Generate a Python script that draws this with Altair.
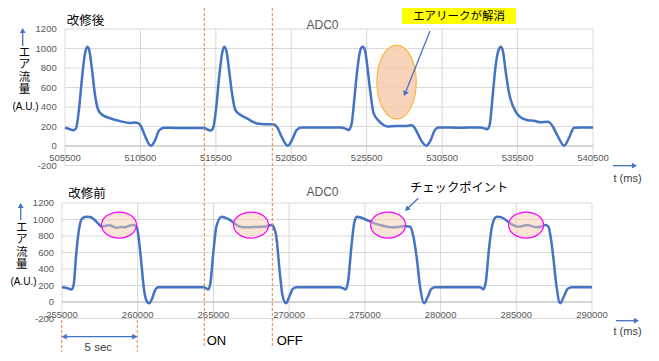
import math
import altair as alt
import pandas as pd

# ---------------- data ----------------
top_t = [505500, 505766, 506031, 506230, 506430, 506629, 506828, 506981, 507094, 507293,
         507492, 507691, 507957, 508488, 509152, 509816, 510148, 510347, 510546, 510812,
         511190, 511476, 511742, 512074, 512804, 513800, 514730, 514929, 515175, 515328,
         515527, 515726, 515925, 516058, 516191, 516390, 516589, 516788, 517120, 517565,
         517917, 518249, 518780, 519312, 519578, 519844, 520262, 520574, 520840, 521172,
         522433, 523760, 524092, 524291, 524490, 524690, 524889, 525088, 525241, 525387,
         525553, 525752, 525951, 526283, 526615, 526881, 527412, 528076, 528408, 528607,
         528873, 529138, 529450, 529736, 530002, 530267, 531728, 533056, 533322, 533501,
         533654, 533853, 534052, 534251, 534384, 534517, 534716, 534915, 535048, 535380,
         535712, 536156, 536574, 537039, 537484, 537637, 537836, 538168, 538587, 538899,
         539251, 539696, 540500]
top_v = [188, 175, 162, 180, 380, 700, 950, 1018, 990, 780,
         520, 375, 320, 285, 255, 236, 242, 235, 200, 100,
         3, 60, 160, 188, 185, 185, 185, 170, 160, 190,
         400, 720, 960, 1018, 980, 760, 520, 370, 320, 284,
         250, 230, 222, 222, 190, 100, 3, 70, 160, 190,
         190, 190, 178, 165, 220, 500, 800, 990, 1018, 980,
         800, 540, 340, 260, 215, 200, 205, 205, 212, 200,
         130, 50, 3, 60, 160, 190, 188, 190, 180, 172,
         220, 520, 830, 990, 1018, 980, 760, 560, 472, 350,
         292, 265, 258, 243, 250, 240, 200, 100, 3, 80,
         188, 190, 190]

bot_t = [255000, 255300, 255641, 255780, 255925, 256123, 256321, 256585, 256850, 257067,
         257350, 257622, 257900, 258170, 258400, 258613, 258900, 259161, 259450, 259709,
         259934, 260100, 260252, 260384, 260549, 260746, 260944, 261142, 261361, 262500,
         264333, 264500, 264663, 264800, 264993, 265200, 265548, 265800, 266096, 266400,
         266757, 267100, 267417, 267900, 268408, 268850, 269000, 269135, 269399, 269550,
         269795, 270000, 270250, 270502, 272000, 273362, 273550, 273739, 273900, 274100,
         274300, 274465, 274800, 275126, 275550, 276004, 276400, 276777, 277200, 277655,
         277985, 278200, 278428, 278650, 278910, 279150, 279400, 279637, 281000, 282609,
         282720, 282827, 283000, 283200, 283450, 283712, 284043, 284591, 285140, 285400,
         285694, 286000, 286355, 286650, 286903, 287121, 287300, 287452, 287650, 287894,
         288100, 288400, 288666, 290000]
bot_v = [178, 170, 153, 220, 550, 880, 1010, 1034, 1030, 1010,
         960, 913, 925, 930, 910, 900, 910, 905, 925, 933,
         910, 720, 450, 200, 30, -16, 40, 140, 178, 178,
         178, 168, 153, 230, 600, 920, 1034, 1020, 994, 950,
         913, 905, 905, 910, 913, 933, 900, 812, 327, 90,
         -16, 60, 160, 178, 178, 178, 168, 153, 260, 650,
         960, 1034, 1020, 994, 960, 933, 915, 905, 910, 920,
         913, 800, 530, 180, -16, 60, 160, 178, 178, 178,
         168, 153, 260, 650, 960, 1034, 1026, 953, 913, 920,
         933, 920, 905, 915, 933, 913, 750, 530, 200, -16,
         50, 160, 178, 178]

top_xticks = [505500, 510500, 515500, 520500, 525500, 530500, 535500, 540500]
bot_xticks = [255000, 260000, 265000, 270000, 275000, 280000, 285000, 290000]
y_ticks = [-200, 0, 200, 400, 600, 800, 1000, 1200]
y_labels = ["-200", "0", "200", "400", "600", "800", "1000", "1200"]

# highlighted regions (centre in data units)
top_mark_t = [527480]
top_mark_v = [656]
bot_mark_t = [258765, 267483, 276532, 285647]
bot_mark_v = [933, 933, 933, 933]

y_title_chars = ["エ", "ア", "流", "量"]

# ---------------- styling / layout ----------------
BLUE = "#4472C4"
GRID = "#D9D9D9"
LABEL = "#595959"
ORANGE = "#ED7D31"
CJK = "Noto Sans CJK JP"
LAT = "Liberation Sans"
M = 8           # page margin
W, H = 643, 345


def P(v):
    return v - M


def qscale(dom, rng):
    return alt.Scale(domain=dom, range=rng, nice=False, zero=False)


ONE = pd.DataFrame({"k": [0]})


def ellipse_path(rx, ry):
    return (f"M {-rx} 0 A {rx} {ry} 0 1 0 {rx} 0 "
            f"A {rx} {ry} 0 1 0 {-rx} 0 Z")


def panel(t, v, xdom, xr, yr, xticks, xlab_y, ylab_x,
          et, ev, rx, ry, estroke, efill_op):
    def xs():
        return qscale(xdom, xr)

    def ys():
        return qscale([-200, 1200], yr)

    ydf = pd.DataFrame({"v": y_ticks, "label": y_labels})
    xdf = pd.DataFrame({"t": xticks, "label": [str(x) for x in xticks]})
    L = []
    L.append(alt.Chart(ydf).mark_rule(color=GRID, strokeWidth=1).encode(
        y=alt.Y("v:Q", scale=ys(), axis=None),
        x=alt.value(xr[0]), x2=alt.value(xr[1])))
    L.append(alt.Chart(xdf).mark_rule(color=GRID, strokeWidth=1).encode(
        x=alt.X("t:Q", scale=xs(), axis=None),
        y=alt.value(yr[1]), y2=alt.value(yr[0])))
    L.append(alt.Chart(pd.DataFrame({"v": [0]})).mark_rule(color="#BFBFBF", strokeWidth=1).encode(
        y=alt.Y("v:Q", scale=ys(), axis=None),
        x=alt.value(xr[0]), x2=alt.value(xr[1])))
    L.append(alt.Chart(ydf).mark_text(align="right", baseline="middle", font=LAT,
                                      fontSize=9.5, color=LABEL).encode(
        y=alt.Y("v:Q", scale=ys(), axis=None),
        x=alt.value(ylab_x), text="label:N"))
    L.append(alt.Chart(xdf).mark_text(align="center", baseline="middle", font=LAT,
                                      fontSize=9.5, color=LABEL).encode(
        x=alt.X("t:Q", scale=xs(), axis=None),
        y=alt.value(xlab_y), text="label:N"))
    L.append(alt.Chart(pd.DataFrame({"t": t, "v": v})).mark_line(
        color=BLUE, strokeWidth=2.5, interpolate="monotone").encode(
        x=alt.X("t:Q", scale=xs(), axis=None),
        y=alt.Y("v:Q", scale=ys(), axis=None)))
    L.append(alt.Chart(pd.DataFrame({"t": et, "v": ev})).mark_point(
        shape=ellipse_path(rx, ry), size=4, filled=True, fill="#F8CBAD",
        fillOpacity=efill_op, stroke=estroke, strokeWidth=1.2, opacity=1).encode(
        x=alt.X("t:Q", scale=xs(), axis=None),
        y=alt.Y("v:Q", scale=ys(), axis=None)))
    return L


def text(s, x, y, size, color="black", font=CJK, align="left", baseline="middle"):
    return alt.Chart(ONE).mark_text(text=s, fontSize=size, color=color, font=font,
                                    align=align, baseline=baseline).encode(
        x=alt.value(P(x)), y=alt.value(P(y)))


def vtext(chars, x, y0, step, size):
    return [text(c, x, y0 + i * step, size, align="center") for i, c in enumerate(chars)]


def vline(x, y1, y2, color=ORANGE, dash=(3, 2), width=1):
    return alt.Chart(ONE).mark_rule(color=color, strokeDash=list(dash), strokeWidth=width).encode(
        x=alt.value(P(x)), y=alt.value(max(P(y1), 0)), y2=alt.value(P(y2)))


def arrow(x1, y1, x2, y2, both=False, size=34, color=BLUE, width=1.3):
    ax1, ay1, ax2, ay2 = P(x1), P(y1), P(x2), P(y2)
    dx, dy = ax2 - ax1, ay2 - ay1
    n = math.hypot(dx, dy)
    ux, uy = dx / n, dy / n
    h = 0.866 * math.sqrt(size) / 2
    ang = math.degrees(math.atan2(ux, -uy)) % 360
    sx1, sy1 = (ax1 + ux * h, ay1 + uy * h) if both else (ax1, ay1)
    L = [alt.Chart(ONE).mark_rule(color=color, strokeWidth=width).encode(
        x=alt.value(sx1), y=alt.value(sy1),
        x2=alt.value(ax2 - ux * h), y2=alt.value(ay2 - uy * h))]
    L.append(alt.Chart(ONE).mark_point(shape="triangle-up", size=size, filled=True,
                                       color=color, opacity=1, angle=ang).encode(
        x=alt.value(ax2 - ux * h), y=alt.value(ay2 - uy * h)))
    if both:
        L.append(alt.Chart(ONE).mark_point(shape="triangle-up", size=size, filled=True,
                                           color=color, opacity=1,
                                           angle=(ang + 180) % 360).encode(
            x=alt.value(ax1 + ux * h), y=alt.value(ay1 + uy * h)))
    return L


layers = []
# top panel (after the fix)
layers += panel(top_t, top_v, [505500, 540500], [P(65), P(593)], [P(165.5), P(29)],
                top_xticks, P(157.7), P(56.7), top_mark_t, top_mark_v, 19.7, 37,
                "#F5B942", 0.85)
# bottom panel (before the fix)
layers += panel(bot_t, bot_v, [255000, 290000], [P(62), P(592)], [P(318.5), P(203)],
                bot_xticks, P(315), P(54), bot_mark_t, bot_mark_v, 17.5, 13,
                "#FF00FF", 0.5)

# ON / OFF markers and 5 sec span
layers.append(vline(204.3, 0, 346.7))
layers.append(vline(272.3, 0, 346.7))
layers.append(vline(61.7, 320, 351.7))
layers.append(vline(137.3, 320, 351.7))

# titles
layers.append(text("改修後", 66.7, 20.7, 12.5))
layers.append(text("改修前", 68.3, 194, 12.5))
layers.append(text("ADC0", 322.5, 25, 12, color=LABEL, font=LAT, align="center"))
layers.append(text("ADC0", 322.5, 191.7, 12, color=LABEL, font=LAT, align="center"))

# y-axis labels
layers += vtext(y_title_chars, 24.5, 53, 12.3, 11.5)
layers.append(text("(A.U.)", 25.5, 107, 10, font=LAT, align="center"))
layers += vtext(y_title_chars, 21.7, 228, 12.3, 11.5)
layers.append(text("(A.U.)", 23.5, 281.5, 10, font=LAT, align="center"))
layers += arrow(22.7, 46, 22.7, 28)
layers += arrow(20.7, 220, 20.7, 203)

# x-axis labels
layers.append(text("t (ms)", 627.5, 179, 11, color="#404040", font=LAT, align="center"))
layers.append(text("t (ms)", 627.5, 331.7, 11, color="#404040", font=LAT, align="center"))
layers += arrow(613, 165.7, 637, 165.7)
layers += arrow(616, 320.7, 639, 320.7)

# 5 sec / ON / OFF
layers += arrow(61.7, 336.7, 137.3, 336.7, both=True)
layers.append(text("5 sec", 98.3, 348, 11.5, color="#404040", font=LAT, align="center"))
layers.append(text("ON", 206.7, 340.7, 13, color="black", font=LAT))
layers.append(text("OFF", 276.7, 340.7, 13, color="black", font=LAT))

# callouts
layers.append(alt.Chart(ONE).mark_rect(color="#FFFF00").encode(
    x=alt.value(P(402)), x2=alt.value(P(516)), y=alt.value(0), y2=alt.value(P(24))))
layers.append(text("エアリークが解消", 459, 16.5, 11.5, align="center"))
layers += arrow(430, 31, 404, 96)
layers.append(text("チェックポイント", 410, 188, 12.3))
layers += arrow(418.3, 198.3, 405, 211)

chart = alt.layer(*layers).resolve_scale(
    x="independent", y="independent"
).properties(
    width=W, height=H, padding=0, autosize=alt.AutoSizeParams(type="none")
).configure_view(stroke=None)

chart.save("out.html", embed_options={"renderer": "svg", "actions": False})
